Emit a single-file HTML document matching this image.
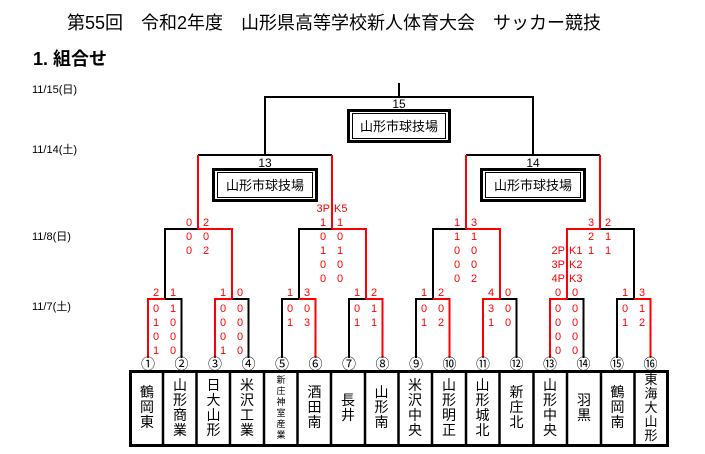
<!DOCTYPE html>
<html><head><meta charset="utf-8"><style>
body{margin:0;background:#fff;width:705px;height:454px;overflow:hidden}
svg{display:block;font-family:"Liberation Sans","Noto Sans CJK JP",sans-serif}
.s{fill:#f00;font-size:11px;text-anchor:middle}
.t{font-size:14px;text-anchor:middle}
.c{font-size:14px;text-anchor:middle}
</style></head><body>
<svg width="705" height="454" viewBox="0 0 705 454" xmlns="http://www.w3.org/2000/svg">
<text x="67" y="29" font-size="18">第55回　令和2年度　山形県高等学校新人体育大会　サッカー競技</text>
<text x="33" y="65" font-size="18" font-weight="bold">1.  組合せ</text>
<g font-size="11">
<text x="32" y="93">11/15(日)</text>
<text x="32" y="153">11/14(土)</text>
<text x="32" y="240">11/8(日)</text>
<text x="32" y="310">11/7(土)</text>
</g>
<g fill="none" stroke="#000" stroke-width="2">
<path d="M399,83V97M265,155V97H533V155M198,155H332M466,155H600"/>
<path d="M165,299V229H198M299,299V229H332M433,299V229H466M600,229H634V299"/>
<path d="M165,299H181.5V358M232,299H248.5V358M282,358V299H299M349,358V299H366M416,358V299H433M500,299H516.5V358M567,299H583.5V358M617,358V299H634"/>
</g>
<g fill="none" stroke="#f00" stroke-width="2">
<path d="M198,229V155M332,229V155M466,229V155M600,229V155"/>
<path d="M198,229H232V299M332,229H366V299M466,229H500V299M600,229H567V299"/>
<path d="M148,358V299H165M215,358V299H232M315.5,358V299H299M382.5,358V299H366M449.5,358V299H433M483,358V299H500M550,358V299H567M650.5,358V299H634"/>
</g>
<g fill="none" stroke="#000">
<rect x="348.5" y="110.5" width="101" height="31" stroke-width="3"/>
<rect x="352.5" y="113.5" width="93" height="25" stroke-width="1"/>
<rect x="213.5" y="169.5" width="103" height="31" stroke-width="3"/>
<rect x="217.5" y="172.5" width="95" height="25" stroke-width="1"/>
<rect x="481.5" y="169.5" width="103" height="31" stroke-width="3"/>
<rect x="485.5" y="172.5" width="95" height="25" stroke-width="1"/>
</g>
<g font-size="12" text-anchor="middle">
<text x="399" y="108">15</text>
<text x="399" y="131" font-size="13">山形市球技場</text>
<text x="265" y="167">13</text>
<text x="265" y="190" font-size="13">山形市球技場</text>
<text x="533" y="167">14</text>
<text x="533" y="190" font-size="13">山形市球技場</text>
</g>
<g class="s">
<text x="156" y="296">2</text><text x="173" y="296">1</text>
<text x="156" y="312">0</text><text x="173" y="312">1</text>
<text x="156" y="326">1</text><text x="173" y="326">0</text>
<text x="156" y="340">0</text><text x="173" y="340">0</text>
<text x="156" y="354">1</text><text x="173" y="354">0</text>
<text x="223" y="296">1</text><text x="240" y="296">0</text>
<text x="223" y="312">0</text><text x="240" y="312">0</text>
<text x="223" y="326">0</text><text x="240" y="326">0</text>
<text x="223" y="340">0</text><text x="240" y="340">0</text>
<text x="223" y="354">1</text><text x="240" y="354">0</text>
<text x="290" y="296">1</text><text x="307" y="296">3</text>
<text x="290" y="312">0</text><text x="307" y="312">0</text>
<text x="290" y="326">1</text><text x="307" y="326">3</text>
<text x="357" y="296">1</text><text x="374" y="296">2</text>
<text x="357" y="312">0</text><text x="374" y="312">1</text>
<text x="357" y="326">1</text><text x="374" y="326">1</text>
<text x="424" y="296">1</text><text x="441" y="296">2</text>
<text x="424" y="312">0</text><text x="441" y="312">0</text>
<text x="424" y="326">1</text><text x="441" y="326">2</text>
<text x="491" y="296">4</text><text x="508" y="296">0</text>
<text x="491" y="312">3</text><text x="508" y="312">0</text>
<text x="491" y="326">1</text><text x="508" y="326">0</text>
<text x="558" y="296">0</text><text x="575" y="296">0</text>
<text x="558" y="312">0</text><text x="575" y="312">0</text>
<text x="558" y="326">0</text><text x="575" y="326">0</text>
<text x="558" y="340">0</text><text x="575" y="340">0</text>
<text x="558" y="354">0</text><text x="575" y="354">0</text>
<text x="625" y="296">1</text><text x="642" y="296">3</text>
<text x="625" y="312">0</text><text x="642" y="312">1</text>
<text x="625" y="326">1</text><text x="642" y="326">2</text>
<text x="189" y="226">0</text><text x="206" y="226">2</text>
<text x="189" y="240">0</text><text x="206" y="240">0</text>
<text x="189" y="254">0</text><text x="206" y="254">2</text>
<text x="330" y="212" text-anchor="end">3P</text><text x="334" y="212" text-anchor="start">K5</text>
<text x="323" y="226">1</text><text x="340" y="226">1</text>
<text x="323" y="240">0</text><text x="340" y="240">0</text>
<text x="323" y="254">1</text><text x="340" y="254">1</text>
<text x="323" y="268">0</text><text x="340" y="268">0</text>
<text x="323" y="282">0</text><text x="340" y="282">0</text>
<text x="457" y="226">1</text><text x="474" y="226">3</text>
<text x="457" y="240">1</text><text x="474" y="240">1</text>
<text x="457" y="254">0</text><text x="474" y="254">0</text>
<text x="457" y="268">0</text><text x="474" y="268">0</text>
<text x="457" y="282">0</text><text x="474" y="282">2</text>
<text x="591" y="226">3</text><text x="608" y="226">2</text>
<text x="591" y="240">2</text><text x="608" y="240">1</text>
<text x="591" y="254">1</text><text x="608" y="254">1</text>
<text x="565" y="254" text-anchor="end">2P</text><text x="569" y="254" text-anchor="start">K1</text>
<text x="565" y="268" text-anchor="end">3P</text><text x="569" y="268" text-anchor="start">K2</text>
<text x="565" y="282" text-anchor="end">4P</text><text x="569" y="282" text-anchor="start">K3</text>
</g>
<g class="c">
<text x="148" y="369">①</text><text x="181.5" y="369">②</text><text x="215" y="369">③</text><text x="248.5" y="369">④</text>
<text x="282" y="369">⑤</text><text x="315.5" y="369">⑥</text><text x="349" y="369">⑦</text><text x="382.5" y="369">⑧</text>
<text x="416" y="369">⑨</text><text x="449.5" y="369">⑩</text><text x="483" y="369">⑪</text><text x="516.5" y="369">⑫</text>
<text x="550" y="369">⑬</text><text x="583.5" y="369">⑭</text><text x="617" y="369">⑮</text><text x="650.5" y="369">⑯</text>
</g>
<rect x="130.5" y="371.5" width="537" height="74" fill="none" stroke="#000" stroke-width="3"/>
<path d="M163,371V446M196.5,371V446M230,371V446M264,371V446M297.5,371V446M331,371V446M365,371V446M398.5,371V446M432,371V446M466,371V446M499.5,371V446M533.5,371V446M567,371V446M601,371V446M634.5,371V446" stroke="#000" stroke-width="2.5"/>
<g class="t">
<text x="147" y="397"><tspan x="147">鶴</tspan><tspan x="147" dy="15">岡</tspan><tspan x="147" dy="15">東</tspan></text>
<text x="180" y="390"><tspan x="180">山</tspan><tspan x="180" dy="15">形</tspan><tspan x="180" dy="15">商</tspan><tspan x="180" dy="15">業</tspan></text>
<text x="213.5" y="390"><tspan x="213.5">日</tspan><tspan x="213.5" dy="15">大</tspan><tspan x="213.5" dy="15">山</tspan><tspan x="213.5" dy="15">形</tspan></text>
<text x="247" y="390"><tspan x="247">米</tspan><tspan x="247" dy="15">沢</tspan><tspan x="247" dy="15">工</tspan><tspan x="247" dy="15">業</tspan></text>
<text x="281" y="383" font-size="9"><tspan x="281">新</tspan><tspan x="281" dy="11">庄</tspan><tspan x="281" dy="11">神</tspan><tspan x="281" dy="11">室</tspan><tspan x="281" dy="11">産</tspan><tspan x="281" dy="11">業</tspan></text>
<text x="314.5" y="397"><tspan x="314.5">酒</tspan><tspan x="314.5" dy="15">田</tspan><tspan x="314.5" dy="15">南</tspan></text>
<text x="348" y="405"><tspan x="348">長</tspan><tspan x="348" dy="15">井</tspan></text>
<text x="381.5" y="397"><tspan x="381.5">山</tspan><tspan x="381.5" dy="15">形</tspan><tspan x="381.5" dy="15">南</tspan></text>
<text x="415" y="390"><tspan x="415">米</tspan><tspan x="415" dy="15">沢</tspan><tspan x="415" dy="15">中</tspan><tspan x="415" dy="15">央</tspan></text>
<text x="449" y="390"><tspan x="449">山</tspan><tspan x="449" dy="15">形</tspan><tspan x="449" dy="15">明</tspan><tspan x="449" dy="15">正</tspan></text>
<text x="482.5" y="390"><tspan x="482.5">山</tspan><tspan x="482.5" dy="15">形</tspan><tspan x="482.5" dy="15">城</tspan><tspan x="482.5" dy="15">北</tspan></text>
<text x="516.5" y="397"><tspan x="516.5">新</tspan><tspan x="516.5" dy="15">庄</tspan><tspan x="516.5" dy="15">北</tspan></text>
<text x="550" y="390"><tspan x="550">山</tspan><tspan x="550" dy="15">形</tspan><tspan x="550" dy="15">中</tspan><tspan x="550" dy="15">央</tspan></text>
<text x="584" y="405"><tspan x="584">羽</tspan><tspan x="584" dy="15">黒</tspan></text>
<text x="617.5" y="397"><tspan x="617.5">鶴</tspan><tspan x="617.5" dy="15">岡</tspan><tspan x="617.5" dy="15">南</tspan></text>
<text x="651" y="384" font-size="13"><tspan x="651">東</tspan><tspan x="651" dy="14">海</tspan><tspan x="651" dy="14">大</tspan><tspan x="651" dy="14">山</tspan><tspan x="651" dy="14">形</tspan></text>
</g>
</svg>
</body></html>
